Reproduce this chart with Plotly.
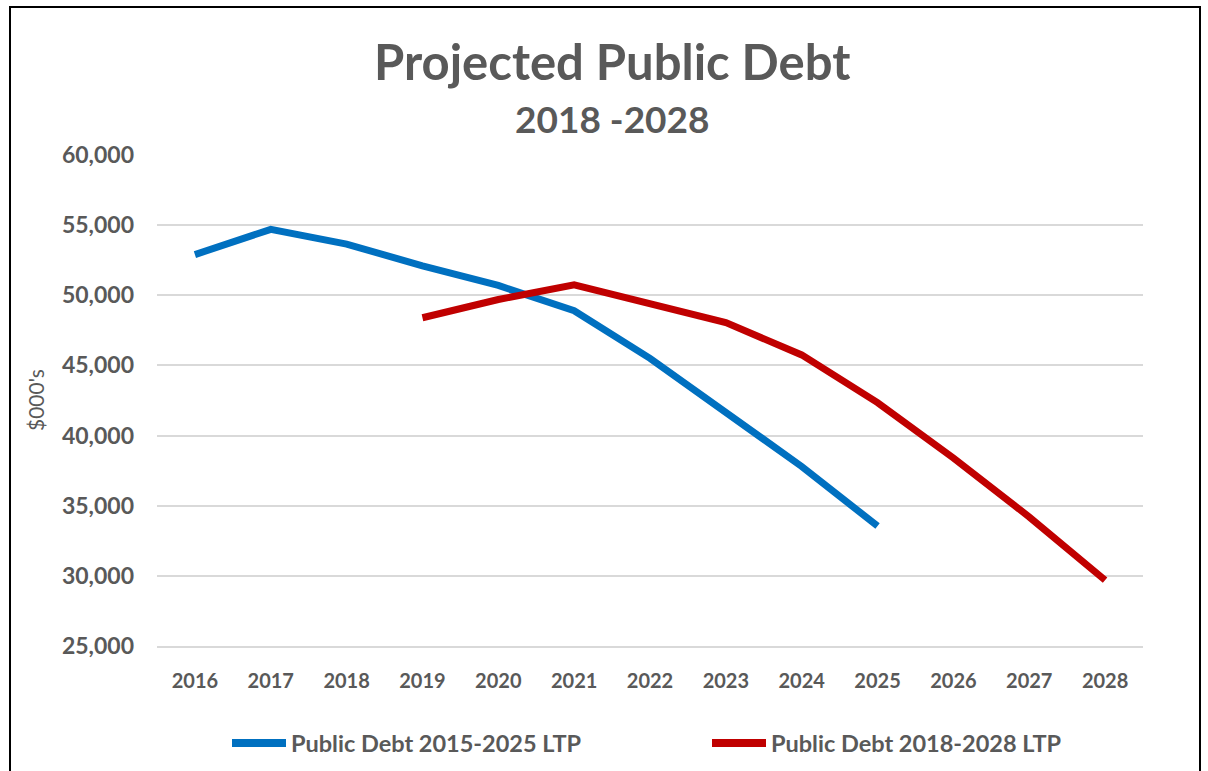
import plotly.graph_objects as go

years = [str(y) for y in range(2016, 2029)]
series_names = ["Public Debt 2015-2025 LTP", "Public Debt 2018-2028 LTP"]
blue_years = years[0:10]
blue_values = [52900, 54700, 53650, 52100, 50700, 48900, 45500, 41700, 37800, 33550]
red_years = years[3:13]
red_values = [48400, 49700, 50750, 49350, 48050, 45750, 42350, 38400, 34200, 29700]
y_ticks = [25000, 30000, 35000, 40000, 45000, 50000, 55000, 60000]

BLUE = "#0070C0"
RED = "#C00000"
GRAY = "#595959"
FONT = "Lato"

# plot-area geometry (pixels) for paper-coordinate helpers
W, H = 1208, 771
L, R, T, B = 157, 65, 155, 125
PW, PH = W - L - R, H - T - B


def px(x):
    return (x - L) / PW


def py(y):
    return (H - B - y) / PH


fig = go.Figure()
fig.add_trace(go.Scatter(x=blue_years, y=blue_values, mode="lines", name=series_names[0],
                         line=dict(color=BLUE, width=7), showlegend=False))
fig.add_trace(go.Scatter(x=red_years, y=red_values, mode="lines", name=series_names[1],
                         line=dict(color=RED, width=7), showlegend=False))

shapes = [
    # chart border
    dict(type="rect", xref="paper", yref="paper", x0=px(10), x1=px(1200), y0=py(7), y1=py(790),
         line=dict(color="black", width=2), fillcolor="rgba(0,0,0,0)", layer="above"),
    # legend samples
    dict(type="line", xref="paper", yref="paper", x0=px(232), x1=px(286), y0=py(743), y1=py(743),
         line=dict(color=BLUE, width=8)),
    dict(type="line", xref="paper", yref="paper", x0=px(712), x1=px(766), y0=py(743), y1=py(743),
         line=dict(color=RED, width=8)),
]

annotations = [
    dict(text="<b>Projected Public Debt</b>", xref="paper", yref="paper", x=px(612), y=py(61),
         xanchor="center", yanchor="middle", showarrow=False, font=dict(family=FONT, size=49, color=GRAY)),
    dict(text="<b>2018 -2028</b>", xref="paper", yref="paper", x=px(612), y=py(119),
         xanchor="center", yanchor="middle", showarrow=False, font=dict(family=FONT, size=37, color=GRAY)),
    dict(text="$000's", xref="paper", yref="paper", x=px(35), y=py(400), textangle=-90,
         xanchor="center", yanchor="middle", showarrow=False, font=dict(family=FONT, size=21, color=GRAY)),
    dict(text="<b>" + series_names[0] + "</b>", xref="paper", yref="paper", x=px(289), y=py(743),
         xanchor="left", yanchor="middle", showarrow=False, font=dict(family=FONT, size=23.5, color=GRAY)),
    dict(text="<b>" + series_names[1] + "</b>", xref="paper", yref="paper", x=px(769), y=py(743),
         xanchor="left", yanchor="middle", showarrow=False, font=dict(family=FONT, size=23.5, color=GRAY)),
]

fig.update_layout(
    width=W, height=H,
    margin=dict(l=L, r=R, t=T, b=B, pad=0),
    paper_bgcolor="white", plot_bgcolor="white",
    font=dict(family=FONT, color=GRAY),
    shapes=shapes,
    annotations=annotations,
    showlegend=False,
)
fig.update_xaxes(
    type="category", categoryorder="array", categoryarray=years,
    range=[-0.5, 12.5], showgrid=False, showline=True, linecolor="#D9D9D9", linewidth=1.5,
    ticks="", tickfont=dict(family=FONT, size=20, color=GRAY, weight="bold"),
    ticklabelstandoff=16, fixedrange=True,
)
fig.update_yaxes(
    range=[25000, 60000], tickvals=y_ticks, tickformat=",",
    showgrid=True, gridcolor="#D9D9D9", gridwidth=1.5, zeroline=False, showline=False,
    ticks="", tickfont=dict(family=FONT, size=23, color=GRAY, weight="bold"),
    ticklabelstandoff=22, fixedrange=True,
)

fig.write_html("out.html")
